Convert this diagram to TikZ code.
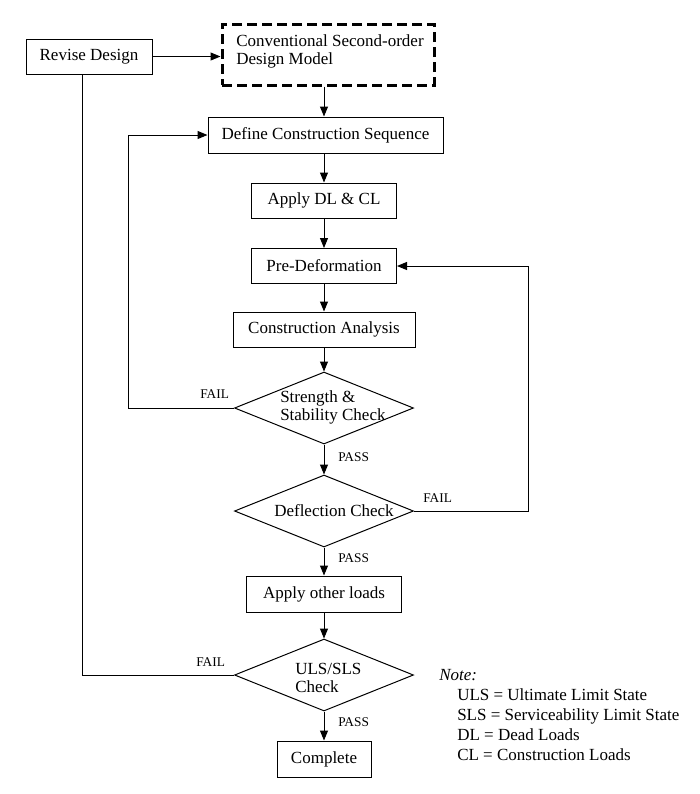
\documentclass[tikz,border=0pt]{standalone}
\usepackage{fontspec}
\setmainfont{Liberation Serif}
\usetikzlibrary{shapes.geometric,arrows.meta}
\begin{document}
\begin{tikzpicture}[x=0.75pt,y=-0.75pt,
  every node/.style={font=\fontsize{12.75}{14.5}\selectfont},
  box/.style={draw,line width=0.75pt,inner sep=0pt,align=center},
  dec/.style={draw,diamond,line width=0.75pt,inner sep=0pt,minimum width=134.25pt,minimum height=54pt},
  dtext/.style={align=left,inner sep=0pt},
  lab/.style={font=\fontsize{10}{12}\selectfont,inner sep=0pt},
  conn/.style={line width=0.75pt,-{Triangle[length=7.5pt,width=6pt]}},
  line/.style={line width=0.75pt}]
\useasboundingbox (0,0) rectangle (700,794);
% nodes
\node[box,minimum width=94.5pt,minimum height=26.25pt] (rev) at (89,56.5) {Revise Design};
\node[box,dashed,line width=2.25pt,dash pattern=on 7.5pt off 3.75pt,minimum width=159pt,minimum height=45.75pt] (conv) at (328,54.5) {};
\node[dtext,anchor=west] (convt) at (236,51.5) {Conventional Second-order\\[-1pt]Design Model};
\node[box,minimum width=176.25pt,minimum height=27pt] (def) at (325.5,135) {Define Construction Sequence};
\node[box,minimum width=108.75pt,minimum height=26.25pt] (app) at (324,200.5) {Apply DL \& CL};
\node[box,minimum width=108.75pt,minimum height=26.25pt] (pre) at (324,266) {Pre-Deformation};
\node[box,minimum width=136.5pt,minimum height=26.25pt] (con) at (324,329.5) {Construction Analysis};
\node[dec] (d1) at (324,408) {};
\node[dtext,anchor=west] (d1t) at (280,407.5) {Strength \&\\[-1pt]Stability Check};
\node[dec] (d2) at (324,511) {};
\node[dtext] (d2t) at (334,511) {Deflection Check};
\node[box,minimum width=116.25pt,minimum height=27pt] (oth) at (324,594) {Apply other loads};
\node[dec] (d3) at (324,675) {};
\node[dtext,anchor=west] (d3t) at (295,678) {ULS/SLS\\[-1pt]Check};
\node[box,minimum width=70.5pt,minimum height=27pt] (cmp) at (324,759) {Complete};
% note
\node[dtext,anchor=north west] (note) at (439,669) {\itshape Note:};
\node[dtext,anchor=north west] (notel) at (457,688) {ULS = Ultimate Limit State\\[0.5pt]SLS = Serviceability Limit State\\[0.5pt]DL = Dead Loads\\[0.5pt]CL = Construction Loads};
% connectors
\draw[conn] (rev.east) -- (rev.east -| conv.west);
\draw[conn] (conv.south -| app.north) -- (app.north |- def.north);
\draw[conn] (def.south -| app.north) -- (app.north);
\draw[conn] (app) -- (pre);
\draw[conn] (pre) -- (con);
\draw[conn] (con.south) -- (d1.north);
\draw[conn] (d1.south) -- (d2.north);
\draw[conn] (d2.south) -- (oth.north);
\draw[conn] (oth.south) -- (d3.north);
\draw[conn] (d3.south) -- (cmp.north);
\coordinate (l1) at (128,408);
\coordinate (l2) at (528,511);
\coordinate (l3) at (82,675);
\draw[conn] (d1.west) -- (l1) |- (def.west);
\draw[conn] (d2.east) -- (l2) |- (pre.east);
\draw[line] (d3.west) -- (l3) -- (l3 |- rev.south);
% labels
\node[lab,anchor=west] (f1) at (200,394) {FAIL};
\node[lab,anchor=west] (p1) at (338,457) {PASS};
\node[lab,anchor=west] (f2) at (423,498) {FAIL};
\node[lab,anchor=west] (p2) at (338,558) {PASS};
\node[lab,anchor=west] (f3) at (196,662) {FAIL};
\node[lab,anchor=west] (p3) at (338,722) {PASS};
\end{tikzpicture}
\end{document}
